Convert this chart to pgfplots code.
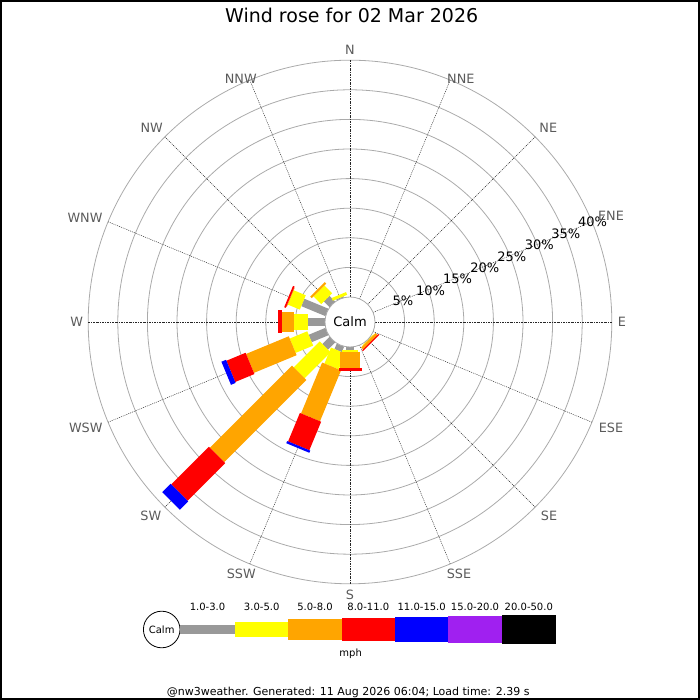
\documentclass[border=0pt]{standalone}
\usepackage{pgfplots}
\pgfplotsset{compat=1.18}
\usepackage{pgfplotstable}
\usepackage{fontspec}
\setmainfont{DejaVu Sans}

\definecolor{cgray}{RGB}{153,153,153}
\definecolor{cyellow}{RGB}{255,255,0}
\definecolor{corange}{RGB}{255,165,0}
\definecolor{cred}{RGB}{255,0,0}
\definecolor{cblue}{RGB}{0,0,255}
\definecolor{cpurple}{RGB}{160,32,240}
\definecolor{ring}{RGB}{170,170,170}
\definecolor{lab}{RGB}{90,90,90}

% direction (compass deg), then % of time in each speed class (mph)
% s1: 1-3, s2: 3-5, s3: 5-8, s4: 8-11, s5: 11-15
\pgfplotstableread{
a s1 s2 s3 s4 s5
135 0.05 0.1 0.45 0.2 0
180 0.5 0.3 2.8 0.4 0
202.5 1.0 2.9 9.3 5.2 0.4
225 1.7 6.2 19.6 9.0 2.0
247.5 3.05 3.2 7.8 3.5 0.85
270 2.8 2.5 2.0 0.7 0
292.5 4.4 2.2 0.1 0.3 0
315 1.35 1.85 0.35 0 0
337.5 0.2 0.5 0 0 0
}\rose

\newcommand{\hole}{4.22}
\newcommand{\fs}[1]{\fontsize{#1}{#1}\selectfont}

\begin{document}
\begin{tikzpicture}[x=1pt,y=1pt]
\path[use as bounding box] (0,0) rectangle (700,700);
\draw[black, line width=2pt] (1,1) rectangle (699,699);

% rings
\foreach \k in {1,...,8} {
  \draw[ring, line width=0.8pt] (350,378) circle ({25+29.6*\k});
}
% radial lines
\foreach \a in {22.5,45,67.5,112.5,135,157.5,202.5,225,247.5,292.5,315,337.5} {
  \draw[black!85, line width=0.45pt, dash pattern=on 1pt off 1pt, shift={(350,378)}] (90-\a:25) -- (90-\a:261.8);
}
\foreach \a in {0,90,180,270} {
  \draw[black!85, line width=0.45pt, dash pattern=on 2pt off 1pt on 0.7pt off 1pt, shift={(350,378)}] (90-\a:25) -- (90-\a:261.8);
}

\begin{axis}[at={(350pt,378pt)}, anchor=center, hide axis, scale only axis,
  width=524pt, height=524pt,
  xmin=-44.22, xmax=44.22, ymin=-44.22, ymax=44.22, clip=false]
\addplot[cgray, line width=8pt,
  quiver={u={\thisrow{s1}*sin(\thisrow{a})}, v={\thisrow{s1}*cos(\thisrow{a})}}]
  table[x expr={(\hole)*sin(\thisrow{a})}, y expr={(\hole)*cos(\thisrow{a})}] {\rose};
\addplot[cyellow, line width=15.5pt,
  quiver={u={\thisrow{s2}*sin(\thisrow{a})}, v={\thisrow{s2}*cos(\thisrow{a})}}]
  table[x expr={(\hole+\thisrow{s1})*sin(\thisrow{a})}, y expr={(\hole+\thisrow{s1})*cos(\thisrow{a})}] {\rose};
\addplot[corange, line width=20.5pt,
  quiver={u={\thisrow{s3}*sin(\thisrow{a})}, v={\thisrow{s3}*cos(\thisrow{a})}}]
  table[x expr={(\hole+\thisrow{s1}+\thisrow{s2})*sin(\thisrow{a})}, y expr={(\hole+\thisrow{s1}+\thisrow{s2})*cos(\thisrow{a})}] {\rose};
\addplot[cred, line width=23pt,
  quiver={u={\thisrow{s4}*sin(\thisrow{a})}, v={\thisrow{s4}*cos(\thisrow{a})}}]
  table[x expr={(\hole+\thisrow{s1}+\thisrow{s2}+\thisrow{s3})*sin(\thisrow{a})}, y expr={(\hole+\thisrow{s1}+\thisrow{s2}+\thisrow{s3})*cos(\thisrow{a})}] {\rose};
\addplot[cblue, line width=25pt,
  quiver={u={\thisrow{s5}*sin(\thisrow{a})}, v={\thisrow{s5}*cos(\thisrow{a})}}]
  table[x expr={(\hole+\thisrow{s1}+\thisrow{s2}+\thisrow{s3}+\thisrow{s4})*sin(\thisrow{a})}, y expr={(\hole+\thisrow{s1}+\thisrow{s2}+\thisrow{s3}+\thisrow{s4})*cos(\thisrow{a})}] {\rose};
\end{axis}

% calm circle
\draw[ring, fill=white, line width=0.8pt] (350,378) circle (25);
\node[inner sep=0pt] at (350,378) {\fs{13}Calm};

% ring labels
\foreach \t/\x/\y in {5\%/403/399.5, 10\%/430.5/409.2, 15\%/457.5/421.5, 20\%/484.8/432.5,
  25\%/511.7/443.5, 30\%/539.2/455, 35\%/565.8/466.2, 40\%/592.5/477.8} {
  \node[inner sep=0pt, black] at (\x,\y) {\fs{13}\t};
}

% direction labels
\foreach \t/\x/\y in {N/350/650, NNE/460.8/620.8, NE/548.3/571.7, ENE/611/484,
  E/622/378, ESE/611/272.5, SE/549/184, SSE/459/125.8, S/350/105,
  SSW/241.3/125.8, SW/150.8/184.2, WSW/85.8/272.5, W/76.7/378.3,
  WNW/85/482.5, NW/151.7/571.7, NNW/240.8/620.8} {
  \node[inner sep=0pt, text=lab] at (\x,\y) {\fs{12.8}\t};
}

% title
\node[inner sep=0pt, anchor=base] at (351.7,677.3) {\fs{19}Wind rose for 02 Mar 2026};

% legend
\draw[black, line width=0.8pt] (161.7,70.5) circle (18.3);
\node[inner sep=0pt] at (161.7,70.5) {\fs{10}Calm};
\fill[cgray]   (180,66.35) rectangle (235,74.65);
\fill[cyellow] (235,63) rectangle (288.3,78);
\fill[corange] (288.3,60.35) rectangle (341.7,80.65);
\fill[cred]    (341.7,59) rectangle (395,82);
\fill[cblue]   (395,58) rectangle (448.3,83);
\fill[cpurple] (448.3,57) rectangle (501.7,84);
\fill[black]   (501.7,56.35) rectangle (556,84.65);
\foreach \t/\x in {1.0-3.0/207.5, 3.0-5.0/261.7, 5.0-8.0/315, 8.0-11.0/368.3,
  11.0-15.0/421.7, 15.0-20.0/475, 20.0-50.0/528.8} {
  \node[inner sep=0pt] at (\x,93.3) {\fs{10}\t};
}
\node[inner sep=0pt] at (350.7,46) {\fs{10}mph};

% footer
\node[inner sep=0pt, anchor=base] at (348.3,4.5) {\fs{11}@nw3weather. Generated: 11 Aug 2026 06:04; Load time: 2.39 s};
\end{tikzpicture}
\end{document}
